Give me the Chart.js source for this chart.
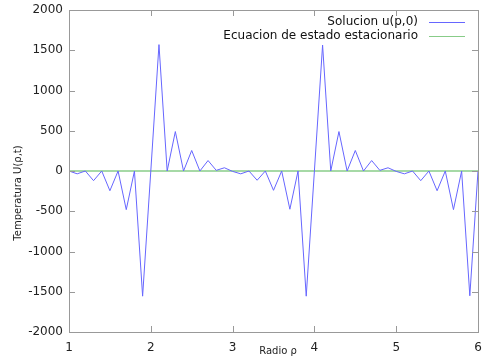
<!DOCTYPE html>
<html>
<head>
<meta charset="utf-8">
<script src="https://cdn.jsdelivr.net/npm/chart.js@4"></script>
<style>
  body { margin: 0; background: #fff; }
  canvas { display: block; }
</style>
</head>
<body>
<canvas id="chart" width="500" height="362"></canvas>
<script>
// radius values (x axis)
const radios = [1.0, 1.1, 1.2, 1.3, 1.4, 1.5, 1.6, 1.7, 1.8, 1.9,
  2.0, 2.1, 2.2, 2.3, 2.4, 2.5, 2.6, 2.7, 2.8, 2.9,
  3.0, 3.1, 3.2, 3.3, 3.4, 3.5, 3.6, 3.7, 3.8, 3.9,
  4.0, 4.1, 4.2, 4.3, 4.4, 4.5, 4.6, 4.7, 4.8, 4.9,
  5.0, 5.1, 5.2, 5.3, 5.4, 5.5, 5.6, 5.7, 5.8, 5.9, 6.0];

// Solucion u(p,0)
const solucion = [0, -35, 0, -120, 0, -245, 0, -480, 0, -1555,
  0, 1570, 0, 490, 0, 255, 0, 130, 8, 40,
  -5, -35, 0, -115, 0, -240, 0, -475, 0, -1555,
  0, 1565, 0, 490, 0, 255, 0, 130, 8, 40,
  -5, -35, 0, -120, 0, -245, 0, -480, 0, -1550, 0];

// Ecuacion de estado estacionario
const estacionario = [0, 0, 0, 0, 0, 0, 0, 0, 0, 0,
  0, 0, 0, 0, 0, 0, 0, 0, 0, 0,
  0, 0, 0, 0, 0, 0, 0, 0, 0, 0,
  0, 0, 0, 0, 0, 0, 0, 0, 0, 0,
  0, 0, 0, 0, 0, 0, 0, 0, 0, 0, 0];

const seriesNames = ['Solucion u(p,0)', 'Ecuacion de estado estacionario'];
const xTitle = 'Radio \u03c1';
const yTitle = 'Temperatura U(\u03c1,t)';

const FONT = 'DejaVu Sans';
const frameColor = '#999999';

// gnuplot-like frame with mirrored inward ticks, axis titles and legend
const framePlugin = {
  id: 'frame',
  afterDraw(chart) {
    const ctx = chart.ctx;
    const a = chart.chartArea;
    const xs = chart.scales.x, ys = chart.scales.y;
    ctx.save();
    ctx.strokeStyle = frameColor;
    ctx.lineWidth = 1;
    ctx.strokeRect(a.left + 0.5, a.top + 0.5, a.right - a.left, a.bottom - a.top);
    ctx.beginPath();
    xs.ticks.forEach(t => {
      const px = Math.round(xs.getPixelForValue(t.value)) + 0.5;
      ctx.moveTo(px, a.bottom); ctx.lineTo(px, a.bottom - 6);
      ctx.moveTo(px, a.top); ctx.lineTo(px, a.top + 6);
    });
    ys.ticks.forEach(t => {
      const py = Math.round(ys.getPixelForValue(t.value)) + 0.5;
      ctx.moveTo(a.left, py); ctx.lineTo(a.left + 6, py);
      ctx.moveTo(a.right, py); ctx.lineTo(a.right - 6, py);
    });
    ctx.stroke();

    // axis titles
    ctx.fillStyle = '#222';
    ctx.font = '10px "' + FONT + '"';
    ctx.textAlign = 'center';
    ctx.textBaseline = 'middle';
    ctx.fillText(xTitle, 278, 351);
    ctx.translate(18, 193);
    ctx.rotate(-Math.PI / 2);
    ctx.fillText(yTitle, 0, 0);
    ctx.restore();

    // legend
    ctx.save();
    ctx.font = '12px "' + FONT + '"';
    ctx.textAlign = 'right';
    ctx.textBaseline = 'middle';
    chart.data.datasets.forEach((ds, i) => {
      const y = 22 + i * 14;
      ctx.fillStyle = '#111';
      ctx.fillText(ds.label, 418, y);
      ctx.strokeStyle = ds.borderColor;
      ctx.lineWidth = 1;
      ctx.beginPath();
      ctx.moveTo(429, y + 0.5);
      ctx.lineTo(465, y + 0.5);
      ctx.stroke();
    });
    ctx.restore();
  }
};

new Chart(document.getElementById('chart'), {
  type: 'line',
  data: {
    datasets: [
      {
        label: seriesNames[0],
        data: radios.map((x, i) => ({ x: x, y: solucion[i] })),
        borderColor: '#6666ff',
        borderWidth: 1,
        pointRadius: 0,
        tension: 0,
        order: 0
      },
      {
        label: seriesNames[1],
        data: radios.map((x, i) => ({ x: x, y: estacionario[i] })),
        borderColor: '#88cc88',
        borderWidth: 1.5,
        pointRadius: 0,
        tension: 0,
        order: 1
      }
    ]
  },
  options: {
    responsive: false,
    animation: false,
    layout: { padding: { top: 10, right: 22, left: 0, bottom: 0 } },
    plugins: {
      legend: { display: false },
      tooltip: { enabled: false }
    },
    scales: {
      x: {
        type: 'linear',
        min: 1,
        max: 6,
        grid: { display: false, drawTicks: false },
        border: { display: false },
        ticks: {
          stepSize: 1,
          padding: 9,
          color: '#222',
          font: { family: FONT, size: 12 },
          callback: v => String(v)
        },
        afterFit(s) { s.height = 30; s.paddingLeft = 0; s.paddingRight = 0; }
      },
      y: {
        min: -2000,
        max: 2000,
        grid: { display: false, drawTicks: false },
        border: { display: false },
        ticks: {
          stepSize: 500,
          padding: 6,
          color: '#222',
          font: { family: FONT, size: 12 },
          callback: v => String(v)
        },
        afterFit(s) { s.width = 69; s.paddingTop = 0; s.paddingBottom = 0; }
      }
    }
  },
  plugins: [framePlugin]
});
</script>
</body>
</html>
